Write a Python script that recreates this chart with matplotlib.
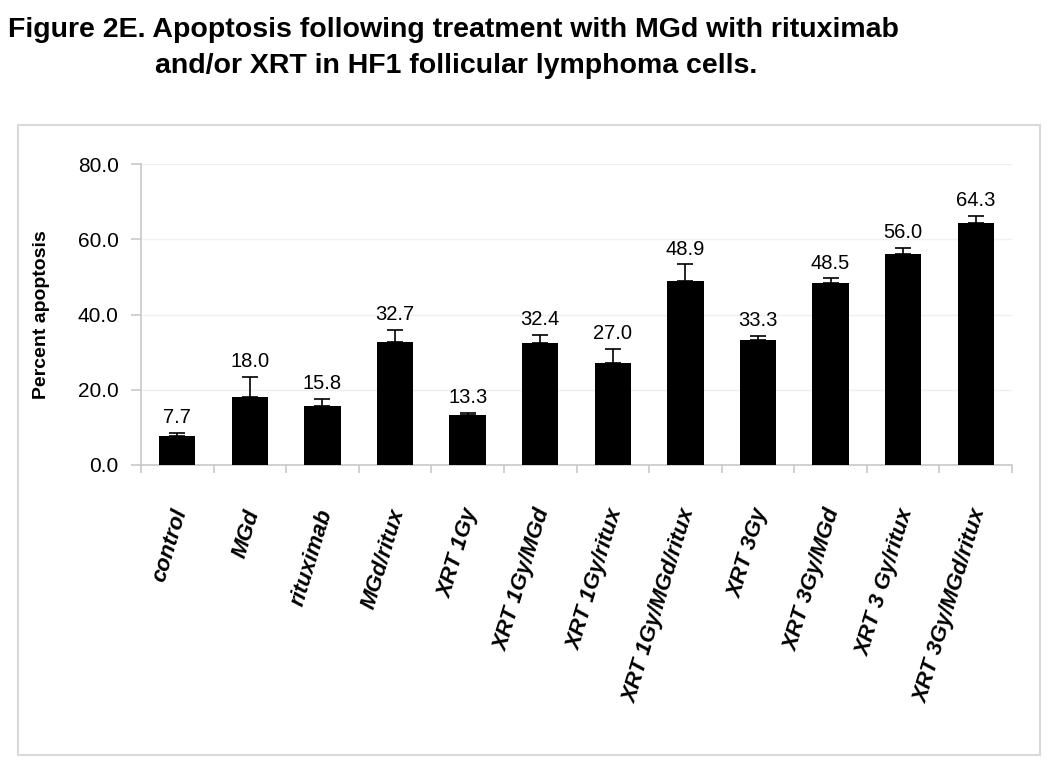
import matplotlib
matplotlib.use("Agg")
import matplotlib.pyplot as plt
import matplotlib.patches as mpatches
import matplotlib.transforms as mtransforms
import numpy as np

categories = ["control", "MGd", "rituximab", "MGd/ritux", "XRT 1Gy", "XRT 1Gy/MGd",
              "XRT 1Gy/ritux", "XRT 1Gy/MGd/ritux", "XRT 3Gy", "XRT 3Gy/MGd",
              "XRT 3 Gy/ritux", "XRT 3Gy/MGd/ritux"]
values = [7.7, 18.0, 15.8, 32.7, 13.3, 32.4, 27.0, 48.9, 33.3, 48.5, 56.0, 64.3]
errors = [0.8, 5.4, 1.8, 3.2, 0.6, 2.2, 3.9, 4.5, 1.1, 1.1, 1.8, 1.9]
yticks = [0, 20, 40, 60, 80]

plt.rcParams['font.family'] = ['Liberation Sans', 'DejaVu Sans']

fig = plt.figure(figsize=(10.5, 7.64), dpi=100)

# outer chart border
fig.patches.append(mpatches.Rectangle((18/1050, 1-755/764), 1022/1050, 630/764,
                                      transform=fig.transFigure, fill=False,
                                      edgecolor='#d9d9d9', linewidth=1.5, zorder=0))

fig.text(8/1050, 1-30/764, "Figure 2E. Apoptosis following treatment with MGd with rituximab",
         fontsize=20.5, fontweight='bold', ha='left', va='center')
fig.text(155/1050, 1-66/764, "and/or XRT in HF1 follicular lymphoma cells.",
         fontsize=20.5, fontweight='bold', ha='left', va='center')

ax = fig.add_axes([141/1050, 1-465/764, (1012-141)/1050, (465-164)/764])
x = np.arange(len(categories))
ax.bar(x, values, width=0.5, color='black', zorder=3)
ax.errorbar(x, values, yerr=[np.zeros(len(errors)), errors], fmt='none',
            ecolor='black', elinewidth=1.2, capsize=6, capthick=1.2, zorder=4)

for xi, v, e in zip(x, values, errors):
    ax.annotate(f"{v:.1f}", (xi, v + e), xytext=(0, 4), textcoords='offset points',
                ha='center', va='bottom', fontsize=14.5)

ax.set_xlim(-0.5, len(categories) - 0.5)
ax.set_ylim(0, 80)
ax.set_yticks(yticks)
ax.set_yticklabels([f"{t:.1f}" for t in yticks], fontsize=15)
ax.yaxis.grid(True, color='#efefef', linewidth=1, zorder=0)
ax.set_axisbelow(True)

for s in ['top', 'right']:
    ax.spines[s].set_visible(False)
for s in ['left', 'bottom']:
    ax.spines[s].set_color('#c8c8c8')
    ax.spines[s].set_linewidth(1.2)

ax.tick_params(axis='y', direction='out', length=7, color='#c8c8c8', width=1.2, pad=9)
ax.set_xticks(x)
ax.set_xticklabels(categories, rotation=73, ha='right', rotation_mode='anchor',
                   fontsize=16, fontweight='bold', fontstyle='italic')
ax.tick_params(axis='x', which='major', length=0, pad=30)
shift = mtransforms.ScaledTranslation(-6/100, 0, fig.dpi_scale_trans)
for lab in ax.get_xticklabels():
    lab.set_transform(lab.get_transform() + shift)
ax.set_xticks(np.arange(-0.5, len(categories), 1.0), minor=True)
ax.tick_params(axis='x', which='minor', direction='out', length=6, color='#c8c8c8', width=1.2)

ax.set_ylabel("Percent apoptosis", fontsize=14, fontweight='bold', labelpad=20)

fig.savefig("out.png", dpi=100)
